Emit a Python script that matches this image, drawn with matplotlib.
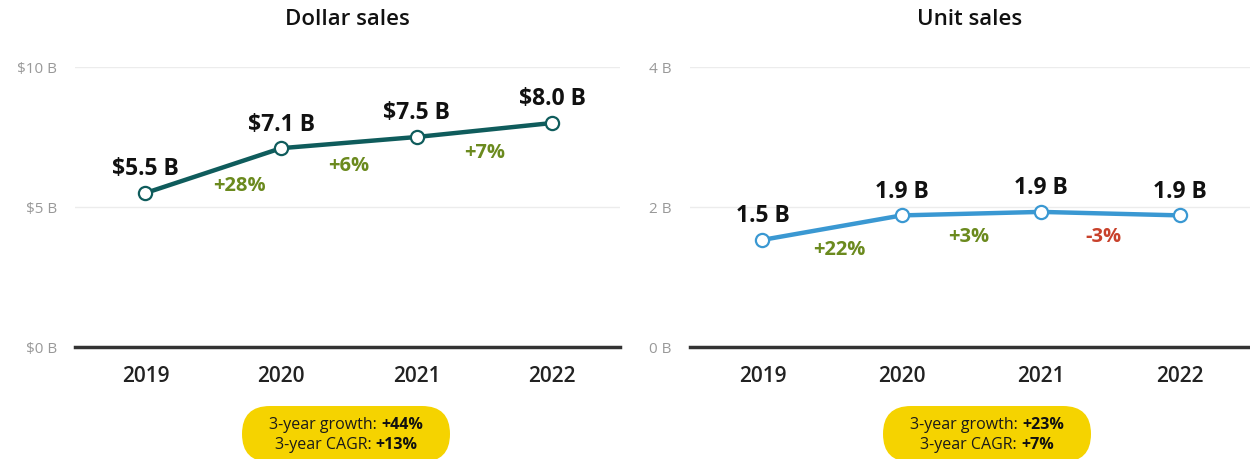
import matplotlib
matplotlib.use('Agg')
import matplotlib.pyplot as plt
import numpy as np
from matplotlib.patches import FancyBboxPatch
from matplotlib.transforms import IdentityTransform
from matplotlib.offsetbox import TextArea, HPacker, VPacker, AnnotationBbox

plt.rcParams['font.family'] = ['Open Sans', 'DejaVu Sans']

# ── Data ──────────────────────────────────────────
years = ['2019', '2020', '2021', '2022']
dollar_sales = [5.5, 7.1, 7.5, 8.0]        # $ billions
unit_sales = [1.53, 1.88, 1.93, 1.88]      # billions of units
dollar_growth = [28, 6, 7]                 # % year over year
unit_growth = [22, 3, -3]
dollar_summary = (44, 13)                  # 3-yr growth, CAGR
unit_summary = (23, 7)

dollar_ticks = [0, 5, 10]
dollar_ticklabels = ['$0 B', '$5 B', '$10 B']
unit_ticks = [0, 2, 4]
unit_ticklabels = ['0 B', '2 B', '4 B']

# ── Colours ───────────────────────────────────────
TEAL = '#0f5c5c'
BLUE = '#3a98d2'
GREEN = '#6b8a1e'
RED = '#c8412b'
YELLOW = '#f5d300'
TICK = '#999999'

W, H = 1250, 460
fig = plt.figure(figsize=(W / 100, H / 100), dpi=100)


def px_axes(x0, x1, ytop, ybot):
    return fig.add_axes([x0 / W, 1 - ybot / H, (x1 - x0) / W, (ybot - ytop) / H])


def panel(ax, vals, growth, color, ticks, ticklabels, title, fmt, lbl_x):
    x = np.arange(len(vals))
    ax.set_xlim(-0.52, len(vals) - 0.5)
    ax.set_ylim(ticks[0], ticks[-1])
    for t in ticks[1:]:
        ax.axhline(t, color='#ececec', lw=1, zorder=0)
    ax.axhline(ticks[0], color='#333333', lw=2.5, zorder=1, clip_on=False)
    ax.plot(x, vals, color=color, lw=3.2, marker='o', ms=9.5, mfc='white',
            mec=color, mew=1.6, zorder=3, clip_on=False)
    for xi, v in zip(x, vals):
        ax.annotate(fmt(v), (xi, v), xytext=(0, 9), textcoords='offset points',
                    ha='center', va='bottom', fontsize=16.5, fontweight='bold',
                    color='#111111')
    for i, g in enumerate(growth):
        gx = i + lbl_x[i]
        gy = np.interp(gx, x, vals)
        ax.annotate(f'{g:+d}%', (gx, gy), xytext=(0, -9), textcoords='offset points',
                    ha='center', va='top', fontsize=14.5, fontweight='bold',
                    color=GREEN if g >= 0 else RED)
    ax.set_xticks(x, years)
    ax.set_yticks(ticks, ticklabels)
    ax.tick_params(axis='y', length=0, pad=13, labelsize=11, labelcolor=TICK)
    ax.tick_params(axis='x', length=0, pad=13, labelsize=15, labelcolor='#222222')
    for lab in ax.get_xticklabels():
        lab.set_fontweight('semibold')
    for s in ax.spines.values():
        s.set_visible(False)
    ax.set_title(title, fontsize=16, fontweight='semibold', color='#111111', pad=31)


def summary_box(cx, growth, cagr):
    bw, bh = 208, 56
    yc = 25  # from bottom, in pixels
    fig.add_artist(FancyBboxPatch((cx - bw / 2, yc - bh / 2), bw, bh,
                                  boxstyle=f'round,pad=0,rounding_size={bh / 2}',
                                  transform=IdentityTransform(), fc=YELLOW, ec='none'))
    props_n = dict(fontsize=11.5, color='#1a1a1a', fontweight='normal')
    props_b = dict(fontsize=11.5, color='#111111', fontweight='bold')
    l1 = HPacker(children=[TextArea('3-year growth: ', textprops=props_n),
                           TextArea(f'+{growth}%', textprops=props_b)],
                 align='baseline', pad=0, sep=0)
    l2 = HPacker(children=[TextArea('3-year CAGR: ', textprops=props_n),
                           TextArea(f'+{cagr}%', textprops=props_b)],
                 align='baseline', pad=0, sep=0)
    box = VPacker(children=[l1, l2], align='center', pad=0, sep=3)
    ab = AnnotationBbox(box, (cx / W, yc / H), xycoords='figure fraction',
                        frameon=False, box_alignment=(0.5, 0.5))
    fig.add_artist(ab)


ax1 = px_axes(75, 620, 68, 348)
panel(ax1, dollar_sales, dollar_growth, TEAL, dollar_ticks, dollar_ticklabels,
      'Dollar sales', lambda v: f'${v:.1f} B', [0.69, 0.5, 0.5])

ax2 = px_axes(690, 1250, 68, 348)
panel(ax2, unit_sales, unit_growth, BLUE, unit_ticks, unit_ticklabels,
      'Unit sales', lambda v: f'{v:.1f} B', [0.55, 0.48, 0.45])

summary_box(346, *dollar_summary)
summary_box(987, *unit_summary)

fig.savefig('out.png', dpi=100, facecolor='white')
